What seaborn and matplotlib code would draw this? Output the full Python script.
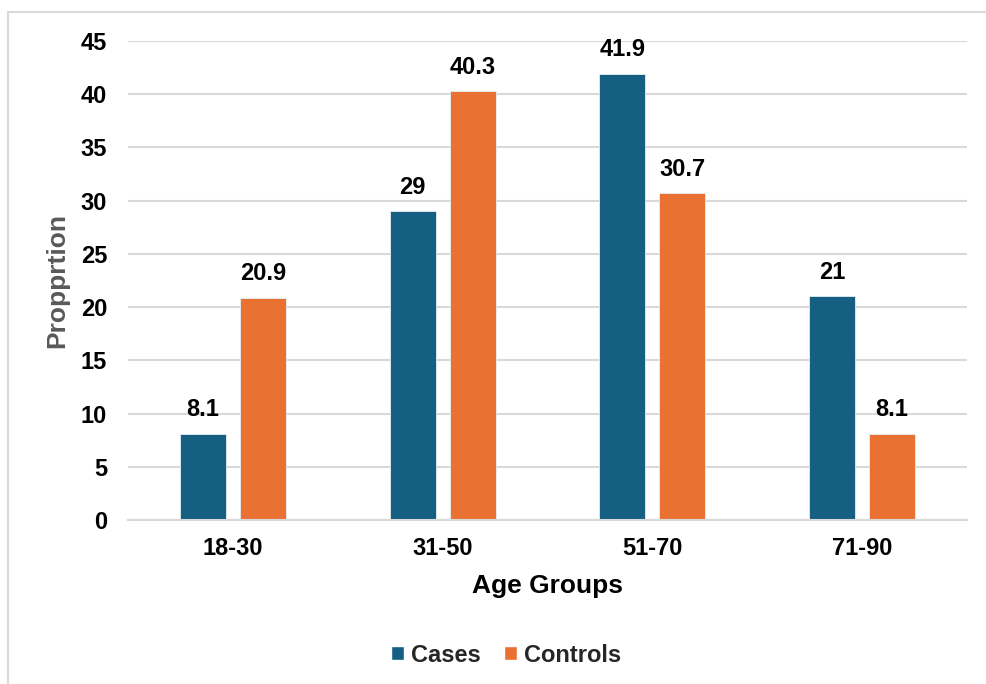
import matplotlib
matplotlib.use("Agg")
import matplotlib.pyplot as plt
import seaborn as sns
import pandas as pd
from matplotlib.patches import Rectangle

age_groups = ["18-30", "31-50", "51-70", "71-90"]
cases = [8.1, 29, 41.9, 21]
controls = [20.9, 40.3, 30.7, 8.1]
series_names = ["Cases", "Controls"]
y_ticks = [0, 5, 10, 15, 20, 25, 30, 35, 40, 45]

colors = {"Cases": "#156082", "Controls": "#E97132"}

df = pd.DataFrame({
    "Age Group": age_groups * 2,
    "Proportion": cases + controls,
    "Series": [series_names[0]] * len(age_groups) + [series_names[1]] * len(age_groups),
})

sns.set_theme(style="white")
plt.rcParams["font.family"] = ["Liberation Sans", "DejaVu Sans"]

fig = plt.figure(figsize=(9.87, 6.84), dpi=100)
ax = fig.add_axes([128 / 987, 1 - 520 / 684, (967 - 128) / 987, (520 - 41) / 684])

sns.barplot(data=df, x="Age Group", y="Proportion", hue="Series", order=age_groups,
            hue_order=series_names, palette=colors, saturation=1, width=0.571, gap=0.233,
            edgecolor="#e8eef2", linewidth=0.6, ax=ax, legend=False)

ax.set_xlim(-0.5, 3.5)
ax.set_ylim(0, 45)
ax.set_yticks(y_ticks)
ax.yaxis.grid(True, color="#d9d9d9", linewidth=1.5)
ax.set_axisbelow(True)
for s in ["top", "right", "left"]:
    ax.spines[s].set_visible(False)
ax.spines["bottom"].set_color("#d9d9d9")
ax.spines["bottom"].set_linewidth(1.5)
ax.tick_params(axis="both", length=0, labelsize=17, colors="black")
ax.tick_params(axis="y", pad=15)
ax.tick_params(axis="x", pad=12)
for lbl in ax.get_xticklabels() + ax.get_yticklabels():
    lbl.set_fontweight("bold")

for container in ax.containers:
    ax.bar_label(container, labels=[f"{v:g}" for v in container.datavalues],
                 padding=9, fontsize=17, fontweight="bold", color="black")

ax.set_xlabel("Age Groups", fontsize=19, fontweight="bold", color="black", labelpad=10)
ax.set_ylabel("Propprtion", fontsize=19, fontweight="bold", color="#595959", labelpad=8)

handles = [Rectangle((0, 0), 1, 1, facecolor=colors[n]) for n in series_names]
fig.legend(handles, series_names, loc="center", bbox_to_anchor=(506 / 987, 1 - 655 / 684),
           ncol=2, frameon=False, prop={"size": 17, "weight": "bold"},
           handlelength=0.55, handleheight=0.55, handletextpad=0.3, columnspacing=1.0)

# chart frame
fig.add_artist(Rectangle((8 / 987, -0.1), 1.2, 1 - 12 / 684 + 0.1, transform=fig.transFigure,
                         fill=False, edgecolor="#d9d9d9", linewidth=1.5))

fig.savefig("out.png", dpi=100)
